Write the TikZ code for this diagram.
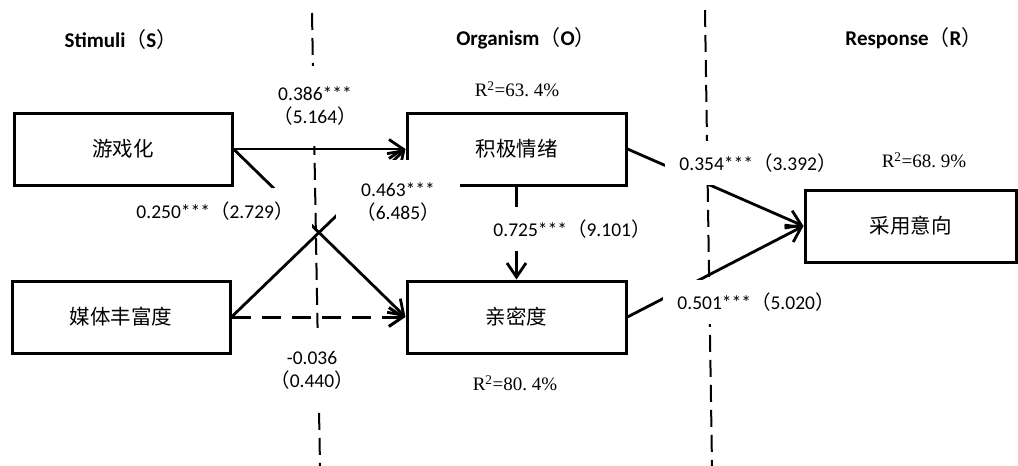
\documentclass[tikz,border=0pt]{standalone}
\usepackage{fontspec}
\setmainfont{Liberation Serif}
\newfontfamily\calfont{Carlito}
\newfontfamily\cjkfont{Noto Sans CJK SC}
\usetikzlibrary{arrows.meta}
\newcommand{\lpar}{{\cjkfont\mdseries （}}
\newcommand{\rpar}{{\cjkfont\mdseries ）}}
\newcommand{\sdot}{\makebox[0.5em][l]{.}}
\begin{document}
\begin{tikzpicture}[x=1pt,y=-1pt,
  box/.style={draw,line width=3pt,minimum width=218pt,minimum height=72pt,inner sep=0pt,font=\cjkfont\fontsize{20.5}{24}\selectfont},
  conn/.style={line width=2.8pt,-{Straight Barb[length=14pt,width=19pt]}},
  dconn/.style={conn,line width=3pt,dash pattern=on 19pt off 11pt},
  divider/.style={line width=2pt,dash pattern=on 17pt off 8pt},
  num/.style={fill=white,inner sep=0pt,align=center,font=\calfont\fontsize{19.5}{23}\selectfont},
  head/.style={font=\calfont\bfseries\fontsize{21}{25}\selectfont},
  rsq/.style={font=\fontsize{19}{23}\selectfont}
]
\useasboundingbox (0,0) rectangle (1018,466);
% dividers
\coordinate (d1t) at (312,13);
\coordinate (d1b) at (320,466);
\coordinate (d2t) at (705,10);
\coordinate (d2b) at (712,466);
\draw[divider] (d1t) -- (d1b);
\draw[divider] (d2t) -- (d2b);
% boxes
\node[box] (A) at (123,149) {游戏化};
\node[box] (B) at (121,317) {媒体丰富度};
\node[box,minimum width=219pt] (C) at (516.5,149) {积极情绪};
\node[box,minimum width=219pt] (D) at (516.5,317) {亲密度};
\node[box,minimum width=211pt] (E) at (910.5,226) {采用意向};
% headers
\node[head] (hs) at (121,40) {Stimuli\lpar S\rpar};
\node[head] (ho) at (526,38) {Organism\lpar O\rpar};
\node[head] (hr) at (914,38) {Response\lpar R\rpar};
% connectors
\draw[conn] (A.east) -- (C.west);
\draw[conn] (A.east) -- (D.west);
\draw[conn] (B.east) -- (C.west);
\draw[dconn] (B.east) -- (D.west);
\draw[conn] (C.south) -- (D.north);
\draw[conn] (C.east) -- (E.west);
\draw[conn] (D.east) -- (E.west);
% labels
\node[num,minimum width=88pt,minimum height=80pt] (l1) at (315,106) {0.386***\\\lpar 5.164\rpar};
\node[num,minimum width=194pt,minimum height=46pt] (l2) at (215,211) {0.250***\lpar 2.729\rpar};
\node[num,minimum width=124pt,minimum height=84pt] (l3) at (398,202) {0.463***\\\lpar 6.485\rpar};
\node[num,minimum width=160pt,minimum height=44pt] (l4) at (572,229) {0.725***\lpar 9.101\rpar};
\node[num,minimum width=186pt,minimum height=44pt] (l5) at (758,163) {0.354***\lpar 3.392\rpar};
\node[num,minimum width=186pt,minimum height=44pt] (l6) at (756,302) {0.501***\lpar 5.020\rpar};
\node[num,minimum width=84pt,minimum height=84pt] (l7) at (312,370) {-0.036\\\lpar 0.440\rpar};
% R squared
\node[rsq] (r1) at (517,89) {R\textsuperscript{2}=63\sdot 4\%};
\node[rsq] (r2) at (515,383) {R\textsuperscript{2}=80\sdot 4\%};
\node[rsq] (r3) at (924,160) {R\textsuperscript{2}=68\sdot 9\%};
\end{tikzpicture}
\end{document}
